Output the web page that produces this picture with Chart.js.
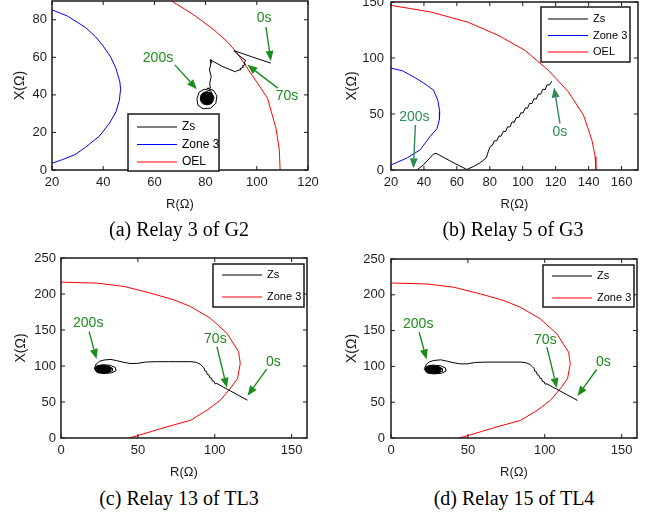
<!DOCTYPE html>
<html><head><meta charset="utf-8">
<script src="https://cdn.jsdelivr.net/npm/chart.js@4.4.0/dist/chart.umd.min.js"></script>
<style>
html,body{margin:0;padding:0;background:#fff;}
#wrap{position:relative;width:645px;height:512px;overflow:hidden;background:#fff;}
canvas{position:absolute;}
.cap{position:absolute;font-family:"Liberation Serif","Times New Roman",serif;font-size:20px;color:#000;white-space:nowrap;transform:translate(-50%,-50%);}
</style></head><body>
<div id="wrap">
<canvas id="ca" width="322" height="215" style="left:0;top:0;width:322px;height:215px"></canvas>
<canvas id="cb" width="323" height="215" style="left:322px;top:0;width:323px;height:215px"></canvas>
<canvas id="cc" width="322" height="245" style="left:0;top:240px;width:322px;height:245px"></canvas>
<canvas id="cd" width="323" height="245" style="left:322px;top:240px;width:323px;height:245px"></canvas>
<div class="cap" style="left:179px;top:229px">(a) Relay 3 of G2</div>
<div class="cap" style="left:513px;top:229px">(b) Relay 5 of G3</div>
<div class="cap" style="left:179px;top:498px">(c) Relay 13 of TL3</div>
<div class="cap" style="left:514px;top:498px">(d) Relay 15 of TL4</div>
</div>
<script>
// ---------- (a) Relay 3 of G2 ----------
const aXTicks = [20,40,60,80,100,120];
const aYTicks = [0,20,40,60,80];
const aZsR = [105.5,98,91.05,93,95.7,95.0,95.6,94.3,94.9,93.4,93.9,92.3,91.6,86.5,81.8,82.1,81.5,82.2,81.6,81.9,80.5,83,84.4,84,82,79,77,76.6,77.5,79.5,82,83.3,82.6,80.5];
const aZsX = [56.9,60.3,63.6,61,58.3,57.0,56.3,55.4,54.8,54,53.5,52.9,52.3,55.2,58.7,56.9,53.3,49.8,46.2,43.6,43.5,42.5,39.5,35.5,33,32.6,34.5,38,41.5,43,42.2,38.5,35.8,34.8];
const aBlobR = [83.1,82.7,81.8,80.5,79.2,78.3,77.9,78.3,79.2,80.5,81.8,82.7];
const aBlobX = [38.2,40.2,41.3,41.7,41.3,40.2,38.2,36.2,35.1,34.7,35.1,36.2];
const aZone3R = [20,26,33,37,40,43,45,46.5,46.8,46.3,45,42.5,38.5,33,29,24,20];
const aZone3X = [85.3,82,76,71,66,60,54,47,43,37,31,25,18,12,8.2,5.5,3.6];
const aOelR = [66.7,75.3,83.2,88.4,92.4,96.3,100.3,104.2,107.5,108.8,109.1];
const aOelX = [90,82.7,74.7,68.4,62.2,54.2,46.2,38.2,22.2,10.7,0];
const aNoteText = ['0s','70s','200s'];
const aNoteR = [102.9,111.8,61.4];
const aNoteX = [80.9,39.1,59.6];
const aArrowFromR = [103.6,108.2,68];
const aArrowFromX = [76.1,43.6,56];
const aArrowToR = [105.5,96.3,76.6];
const aArrowToX = [58.1,56,43];

// ---------- (b) Relay 5 of G3 ----------
const bXTicks = [20,40,60,80,100,120,140,160];
const bYTicks = [0,50,100,150];
const bZsR = [117.6,116.2,114.8,113.6,112.2,110.8,109.6,108.2,106.8,105.6,104.2,102.8,101.6,100.2,98.8,97.6,96.2,94.8,93.6,92.2,90.8,89.6,88.2,86.8,85.6,84.2,82.8,81.6,80.3,79.2,77.9,74.2,70,66,56,47.4,45.8,39.7,35.7];
const bZsX = [79.3,75.9,76.1,71.8,72.1,67.5,68.0,63.4,63.6,59.3,59.6,55.0,55.5,50.9,51.1,46.8,47.1,42.5,43.0,38.4,38.6,34.3,34.5,30.0,30.5,25.9,26.1,22.2,21,17,11,6.5,3,0.5,8,14.9,14.3,4.5,0];
const bZone3R = [20,27,33.6,40,45.8,48.5,49.6,49.4,48,43.8,37.7,30,24,20];
const bZone3X = [91,88.5,83.3,77.5,71.4,62,52,45,37,30,18,11,7,4.5];
const bOelR = [20,44.4,66.7,85,101.3,115.5,127.7,136.9,142,144,144.4];
const bOelX = [147,141,132,120.3,106.9,89.1,69.8,49,26.7,11.9,0];
const bNoteText = ['200s','0s'];
const bNoteR = [34.2,122.6];
const bNoteX = [46.9,34.2];
const bArrowFromR = [34.8,122.6];
const bArrowFromX = [40.1,41.6];
const bArrowToR = [33.6,119];
const bArrowToX = [1.5,73.7];

// ---------- (c) Relay 13 of TL3 and (d) Relay 15 of TL4 ----------
const cdXTicks = [0,50,100,150];
const cdYTicks = [0,50,100,150,200,250];
const cdZsR = [121.3,115,110,105,101.4,100.2,99.6,98.4,97.9,96.8,96.2,95.1,94.6,93.6,93.0,92.0,90.5,88,84.5,78,70,62,55,49.6,45,41,36,32.4,28,25,23,21.7,23.5,28,33,35.8,35.3,32,27,23,22.3,25,30,33.5,33.5,30];
const cdZsX = [52.5,59.8,65.6,71.4,75.7,75.2,78.6,79.2,83.2,83.6,87.8,88.2,92.6,93,97.4,99.6,102.5,105,106,106,106,106,105.5,103.6,103.5,105,107.5,109.2,108.3,106.5,103,97,91,89.5,90.5,93.5,98,101,101.8,100,95,91.5,91,93,97,99];
const cdBlobR = [33,32.3,30.5,27.5,24.5,22.7,22,22.7,24.5,27.5,30.5,32.3];
const cdBlobX = [95.5,98.3,100.3,101,100.3,98.3,95.5,92.7,90.7,90,90.7,92.7];
const cdZone3R = [0,23.7,41,58.3,73.4,84.2,97.1,107.9,115.5,116.6,114.8,110.1,103.6,95,84.2,64.8,49.6,44];
const cdZone3X = [216.5,215.1,210.5,201.2,191.9,182.6,166.4,145.4,119.9,103.6,82.7,68.8,52.5,38.6,24.6,13,3,0];
const cdNoteText = ['200s','70s','0s'];
const cdNoteR = [17.7,100.4,138.1];
const cdNoteX = [159.4,137.1,106];
const cdArrowFromR = [18.3,101.4,133.8];
const cdArrowFromX = [147.8,126.9,95.7];
const cdArrowToR = [23.1,107.9,121.3];
const cdArrowToX = [109.7,69.7,58.6];

// ---------- helpers ----------
const zip = (r, x) => r.map((v, i) => ({x: v, y: x[i]}));
const line = (label, r, x, color, extra) => Object.assign({
  label, data: zip(r, x), borderColor: color, backgroundColor: color,
  showLine: true, pointRadius: 0, borderWidth: 1, tension: 0, fill: false
}, extra || {});
const notes = (t, r, x, fr, fx, tr, tx) => t.map((s, i) => ({text: s, r: r[i], x: x[i], fr: fr[i], fx: fx[i], tr: tr[i], tx: tx[i]}));

const TICK_FONT = {family: 'Liberation Sans, Arial, sans-serif', size: 13};
const TICK_COLOR = '#1e1e1e';

const framePlugin = {
  id: 'frame',
  afterDatasetsDraw(chart) {
    const {ctx, chartArea: a, scales: {x, y}} = chart;
    ctx.save();
    ctx.strokeStyle = '#1a1a1a';
    ctx.lineWidth = 1;
    const L = 4;
    ctx.beginPath();
    x.ticks.forEach(t => { const p = x.getPixelForValue(t.value);
      ctx.moveTo(p, a.bottom); ctx.lineTo(p, a.bottom - L);
      ctx.moveTo(p, a.top); ctx.lineTo(p, a.top + L); });
    y.ticks.forEach(t => { const p = y.getPixelForValue(t.value);
      ctx.moveTo(a.left, p); ctx.lineTo(a.left + L, p);
      ctx.moveTo(a.right, p); ctx.lineTo(a.right - L, p); });
    ctx.stroke();
    ctx.lineWidth = 1.5;
    ctx.strokeRect(a.left, a.top, a.right - a.left, a.bottom - a.top);
    ctx.restore();
  }
};

const notePlugin = {
  id: 'notes',
  afterDatasetsDraw(chart, args, opts) {
    const {ctx, scales: {x, y}} = chart;
    ctx.save();
    ctx.strokeStyle = opts.color; ctx.fillStyle = opts.color;
    ctx.lineWidth = 1.4;
    (opts.items || []).forEach(n => {
      const x0 = x.getPixelForValue(n.fr), y0 = y.getPixelForValue(n.fx);
      const x1 = x.getPixelForValue(n.tr), y1 = y.getPixelForValue(n.tx);
      const ang = Math.atan2(y1 - y0, x1 - x0), hl = 10, hw = 4;
      const bx = x1 - hl * Math.cos(ang), by = y1 - hl * Math.sin(ang);
      ctx.beginPath(); ctx.moveTo(x0, y0); ctx.lineTo(bx, by); ctx.stroke();
      ctx.beginPath(); ctx.moveTo(x1, y1);
      ctx.lineTo(bx + hw * Math.sin(ang), by - hw * Math.cos(ang));
      ctx.lineTo(bx - hw * Math.sin(ang), by + hw * Math.cos(ang));
      ctx.closePath(); ctx.fill();
      ctx.font = '14px "Liberation Sans", Arial, sans-serif';
      ctx.textAlign = 'center'; ctx.textBaseline = 'middle';
      ctx.fillText(n.text, x.getPixelForValue(n.r), y.getPixelForValue(n.x));
    });
    ctx.restore();
  }
};

const boxLegendPlugin = {
  id: 'boxLegend',
  afterDraw(chart, args, o) {
    const {ctx, chartArea: a} = chart;
    const bx = a.left + o.box[0], by = a.top + o.box[1];
    ctx.save();
    ctx.fillStyle = '#fff';
    ctx.fillRect(bx, by, o.box[2], o.box[3]);
    ctx.strokeStyle = '#1a1a1a'; ctx.lineWidth = 1.5;
    ctx.strokeRect(bx, by, o.box[2], o.box[3]);
    ctx.font = o.size + 'px "Liberation Sans", Arial, sans-serif';
    ctx.textBaseline = 'middle'; ctx.textAlign = 'left';
    chart.data.datasets.filter(d => d.label).forEach((d, i) => {
      const yy = by + o.first + i * o.gap;
      ctx.strokeStyle = d.borderColor; ctx.lineWidth = 1;
      ctx.beginPath(); ctx.moveTo(bx + o.l0, yy); ctx.lineTo(bx + o.l1, yy); ctx.stroke();
      ctx.fillStyle = '#000';
      ctx.fillText(d.label, bx + o.tx, yy);
    });
    ctx.restore();
  }
};

function makeChart(id, s) {
  return new Chart(document.getElementById(id), {
    type: 'scatter',
    data: {datasets: s.datasets},
    options: {
      responsive: false, animation: false, events: [],
      layout: {autoPadding: false, padding: {left: 0, right: s.pr, top: s.pt, bottom: 0}},
      plugins: {legend: {display: false}, tooltip: {enabled: false},
        notes: {items: s.notes, color: s.noteColor}, boxLegend: s.legend},
      scales: {
        x: {type: 'linear', min: s.xmin, max: s.xmax,
          grid: {display: false, drawTicks: false}, border: {display: false},
          afterBuildTicks: sc => { sc.ticks = s.xt.map(v => ({value: v})); },
          afterFit: sc => { sc.height = s.xh; sc.paddingLeft = 0; sc.paddingRight = 0; },
          ticks: {padding: 5, color: TICK_COLOR, font: TICK_FONT, maxRotation: 0, autoSkip: false, callback: v => String(v)},
          title: {display: true, text: 'R(Ω)', color: '#1a1a1a', font: {family: 'Liberation Sans, Arial, sans-serif', size: 13}, padding: {top: 0, bottom: s.xtp}}},
        y: {type: 'linear', min: s.ymin, max: s.ymax,
          grid: {display: false, drawTicks: false}, border: {display: false},
          afterBuildTicks: sc => { sc.ticks = s.yt.map(v => ({value: v})); },
          afterFit: sc => { sc.width = s.yw; sc.paddingTop = 0; sc.paddingBottom = 0; },
          ticks: {padding: s.ytpad, color: TICK_COLOR, font: TICK_FONT, autoSkip: false, callback: v => String(v)},
          title: {display: true, text: 'X(Ω)', color: '#1a1a1a', font: {family: 'Liberation Sans, Arial, sans-serif', size: 14}, padding: {top: s.ytp, bottom: 0}}}
      }
    },
    plugins: [framePlugin, notePlugin, boxLegendPlugin]
  });
}

const GREEN = '#1c8c1c';

makeChart('ca', {
  datasets: [
    line('Zs', aZsR, aZsX, '#000000'),
    line('Zone 3', aZone3R, aZone3X, '#0000ff'),
    line('OEL', aOelR, aOelX, '#ff0000'),
    line('', aBlobR, aBlobX, '#000000', {fill: 'shape'})
  ],
  xmin: 20, xmax: 120, ymin: 0, ymax: 90, xt: aXTicks, yt: aYTicks,
  pr: 14, pt: 1, xh: 45, yw: 52, xtp: 3.2, ytp: 11.6, ytpad: 5,
  notes: notes(aNoteText, aNoteR, aNoteX, aArrowFromR, aArrowFromX, aArrowToR, aArrowToX), noteColor: GREEN,
  legend: {box: [76, 113, 91, 57], first: 13, gap: 17.5, l0: 9, l1: 49, tx: 54, size: 12}
});

makeChart('cb', {
  datasets: [
    line('Zs', bZsR, bZsX, '#000000'),
    line('Zone 3', bZone3R, bZone3X, '#0000ff'),
    line('OEL', bOelR, bOelX, '#ff0000')
  ],
  xmin: 20, xmax: 170, ymin: 0, ymax: 150, xt: bXTicks, yt: bYTicks,
  pr: 7, pt: 2, xh: 45, yw: 69, xtp: 3.2, ytp: 21.3, ytpad: 7,
  notes: notes(bNoteText, bNoteR, bNoteX, bArrowFromR, bArrowFromX, bArrowToR, bArrowToX), noteColor: '#2e8b57',
  legend: {box: [150, 5, 89, 55], first: 12, gap: 16.5, l0: 7, l1: 47, tx: 52, size: 11}
});

const cdSets = () => [
  line('Zs', cdZsR, cdZsX, '#000000'),
  line('Zone 3', cdZone3R, cdZone3X, '#ff0000'),
  line('', cdBlobR, cdBlobX, '#000000', {fill: 'shape'})
];

makeChart('cc', {
  datasets: cdSets(),
  xmin: 0, xmax: 160, ymin: 0, ymax: 250, xt: cdXTicks, yt: cdYTicks,
  pr: 15, pt: 18, xh: 47, yw: 61, xtp: 5.2, ytp: 12.3, ytpad: 5,
  notes: notes(cdNoteText, cdNoteR, cdNoteX, cdArrowFromR, cdArrowFromX, cdArrowToR, cdArrowToX), noteColor: GREEN,
  legend: {box: [152, 6, 91, 43], first: 11, gap: 22, l0: 9, l1: 49, tx: 54, size: 11}
});

makeChart('cd', {
  datasets: cdSets(),
  xmin: 0, xmax: 160, ymin: 0, ymax: 250, xt: cdXTicks, yt: cdYTicks,
  pr: 8, pt: 19, xh: 47, yw: 69, xtp: 5.2, ytp: 21.3, ytpad: 6,
  notes: notes(cdNoteText, cdNoteR, cdNoteX, cdArrowFromR, cdArrowFromX, cdArrowToR, cdArrowToX), noteColor: GREEN,
  legend: {box: [152, 6, 91, 42], first: 11, gap: 22, l0: 9, l1: 49, tx: 54, size: 11}
});
</script>
</body></html>
